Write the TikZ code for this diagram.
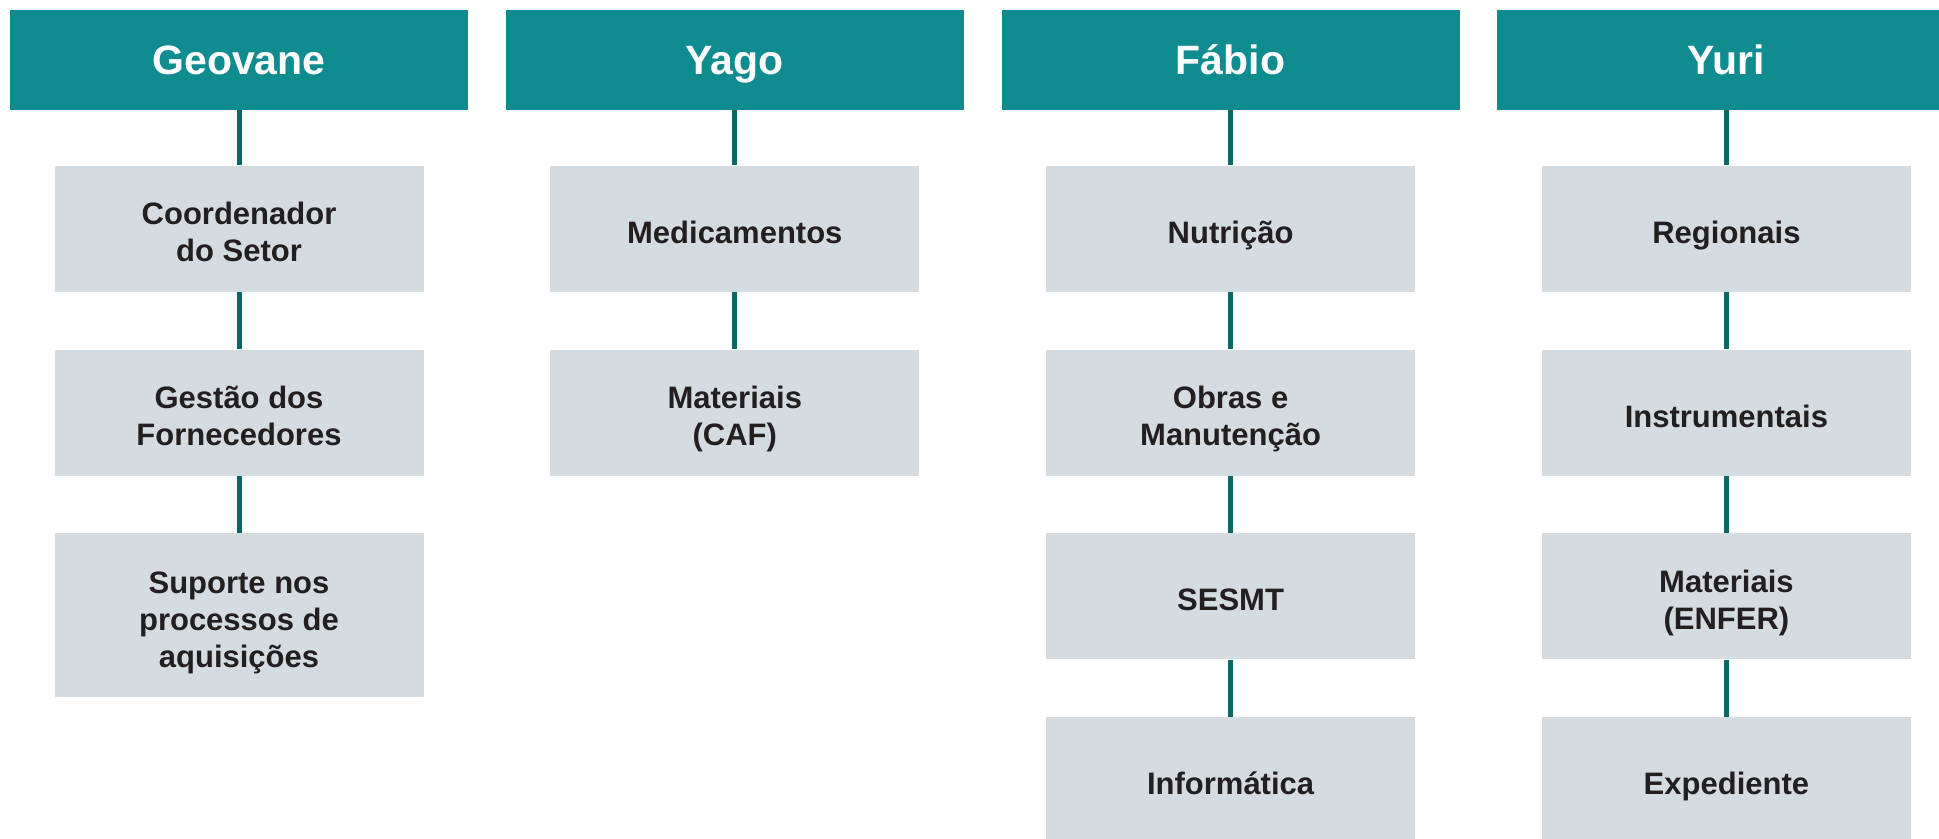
\documentclass[tikz,border=0pt]{standalone}
\usepackage{fontspec}
\setmainfont{Liberation Sans}
\usepackage{tikz}
\usetikzlibrary{positioning}
\definecolor{headTeal}{HTML}{0F8C8F}
\definecolor{lineTeal}{HTML}{0B6668}
\definecolor{boxGrey}{HTML}{D4DBE1}
\definecolor{textDark}{HTML}{231F20}

\begin{document}
\begin{tikzpicture}[
  x=0.5pt,y=-0.5pt,
  node distance=28.5pt and 18.5pt,
  head/.style={fill=headTeal,text=white,minimum width=229pt,minimum height=50pt,inner sep=0pt,text height=15pt,text depth=0.5pt,font=\fontsize{20.5}{24}\selectfont\bfseries},
  box/.style={fill=boxGrey,text=textDark,align=center,minimum width=184.5pt,minimum height=63pt,inner sep=0pt,font=\fontsize{15.5}{18.5}\selectfont\bfseries,
    text height=15pt,text depth=0.5pt},
  multi/.style={text height=36pt,text depth=3pt},
  link/.style={draw=lineTeal,line width=2.5pt}
]
\useasboundingbox (0,0) rectangle (1939,839);
% heads
\node[head] (geovane) at (239,60) {Geovane};
\node[head,right=of geovane] (yago) {Yago};
\node[head,right=of yago] (fabio) {Fábio};
\node[head,right=of fabio] (yuri) {Yuri};
% Geovane
\node[box,multi,below=27.5pt of geovane] (coord) {Coordenador\\do Setor};
\node[box,multi,below=of coord] (gestao) {Gestão dos\\Fornecedores};
\node[box,multi,below=of gestao,minimum height=82pt,text height=55pt] (suporte) {Suporte nos\\processos de\\aquisições};
% Yago
\node[box,below=27.5pt of yago] (medic) {Medicamentos};
\node[box,multi,below=of medic] (matcaf) {Materiais\\(CAF)};
% Fabio
\node[box,below=27.5pt of fabio] (nutri) {Nutrição};
\node[box,multi,below=of nutri] (obras) {Obras e\\Manutenção};
\node[box,below=of obras] (sesmt) {SESMT};
\node[box,below=of sesmt] (info) {Informática};
% Yuri
\node[box,below=27.5pt of yuri] (regio) {Regionais};
\node[box,below=of regio] (instr) {Instrumentais};
\node[box,multi,below=of instr] (matenf) {Materiais\\(ENFER)};
\node[box,below=of matenf] (exped) {Expediente};
% links
\draw[link] (geovane) -- (coord);
\draw[link] (coord) -- (gestao);
\draw[link] (gestao) -- (suporte);
\draw[link] (yago) -- (medic);
\draw[link] (medic) -- (matcaf);
\draw[link] (fabio) -- (nutri);
\draw[link] (nutri) -- (obras);
\draw[link] (obras) -- (sesmt);
\draw[link] (sesmt) -- (info);
\draw[link] (yuri) -- (regio);
\draw[link] (regio) -- (instr);
\draw[link] (instr) -- (matenf);
\draw[link] (matenf) -- (exped);
\end{tikzpicture}
\end{document}
